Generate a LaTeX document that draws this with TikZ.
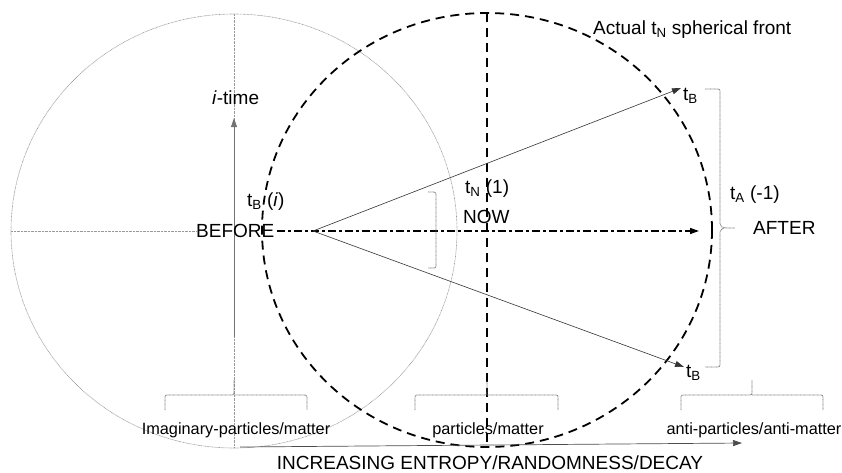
\documentclass[tikz,border=0pt]{standalone}
\usepackage{fontspec}
\setmainfont{Liberation Sans}
\usetikzlibrary{arrows.meta}
\begin{document}
\begin{tikzpicture}[x=1pt,y=-1pt,
  greyline/.style={draw=black!40, line width=0.6pt, dash pattern=on 0.8pt off 0.6pt},
  front/.style={draw=black, line width=1.8pt, dash pattern=on 9pt off 6pt},
  dashdot/.style={draw=black, line width=1.4pt, dash pattern=on 8pt off 3pt on 3pt off 3pt},
  tip/.style={-{Triangle[length=9pt,width=6pt]}},
  ray/.style={draw=black!80, line width=0.6pt, tip},
  bracestyle/.style={draw=black!55, line width=0.7pt, dash pattern=on 0.8pt off 0.5pt, rounded corners=2pt},
  lbl/.style={font=\fontsize{19}{22}\selectfont, inner sep=0pt, anchor=base west},
  small/.style={font=\fontsize{16.3}{19}\selectfont, inner sep=0pt, anchor=base}]
\useasboundingbox (0,0) rectangle (842,472);

% centres and key points
\coordinate (gc) at (234,231);
\coordinate (fc) at (487,230);
\coordinate (apex) at (313,231);
\coordinate (tbu) at (681,88);
\coordinate (tbl) at (684,367);

% imaginary (grey) circle and its axes
\draw[greyline] (gc) ellipse [x radius=223pt, y radius=217pt];
\coordinate (gtop) at (234,14);
\coordinate (gbot) at (234,448);
\coordinate (gleft) at (11,231);
\coordinate (gbefore) at (197,231);
\draw[greyline] (gtop) -- (gbot);
\draw[greyline] (gleft) -- (gbefore);
\coordinate (itail) at (234,337);
\coordinate (ihead) at (234,118);
\draw[draw=black!55, line width=0.8pt, tip] (itail) -- (ihead);

% actual spherical front
\draw[front] (fc) ellipse [x radius=225pt, y radius=217pt];
\coordinate (ftop) at (487,13);
\coordinate (fbot) at (487,447);
\draw[front] (ftop) -- (fbot);

% time axis
\coordinate (dstart) at (277,231);
\coordinate (dend) at (699,231);
\draw[dashdot, tip] (dstart) -- (dend);

% rays
\draw[ray] (apex) -- (tbu);
\draw[ray] (apex) -- (tbl);

% brackets
\draw[bracestyle] (428,192) -- (436,192) -- (436,268) -- (428,268);
\draw[bracestyle] (705,89) -- (720,89) -- (720,226) -- (724,228) -- (735,228);
\draw[bracestyle] (724,228) -- (720,230) -- (720,367) -- (705,367);

\draw[bracestyle] (165,410) -- (165,395) -- (234,395) -- (234,380);
\draw[bracestyle] (234,395) -- (307,395) -- (307,410);
\draw[bracestyle] (415,410) -- (415,395) -- (487,395) -- (487,381);
\draw[bracestyle] (487,395) -- (558,395) -- (558,410);
\draw[bracestyle] (681,410) -- (681,395) -- (752,395) -- (752,380);
\draw[bracestyle] (752,395) -- (823,395) -- (823,410);

% bottom axis
\coordinate (btail) at (240,447);
\coordinate (bhead) at (742,443);
\draw[draw=black!70, line width=0.7pt, tip] (btail) -- (bhead);

% labels
\node[lbl] (itime) at (212,104) {\textit{i}-time};
\node[lbl] (tbi) at (247,206) {t\textsubscript{B} (\textit{i})};
\node[lbl] (before) at (196,237) {BEFORE};
\node[lbl] (tn) at (465,193) {t\textsubscript{N} (1)};
\node[lbl] (now) at (463,223) {NOW};
\node[lbl] (ta) at (730,199) {t\textsubscript{A} (-1)};
\node[lbl] (after) at (753,234) {AFTER};
\node[lbl] (tbU) at (683,100) {t\textsubscript{B}};
\node[lbl] (tbL) at (686,377) {t\textsubscript{B}};
\node[lbl] (actual) at (593,34) {Actual t\textsubscript{N} spherical front};

\node[small] (imag) at (236,434) {Imaginary-particles/matter};
\node[small] (part) at (488,434) {particles/matter};
\node[small] (anti) at (754,434) {anti-particles/anti-matter};
\node[lbl, anchor=base] (entropy) at (490,469) {INCREASING ENTROPY/RANDOMNESS/DECAY};
\end{tikzpicture}
\end{document}
